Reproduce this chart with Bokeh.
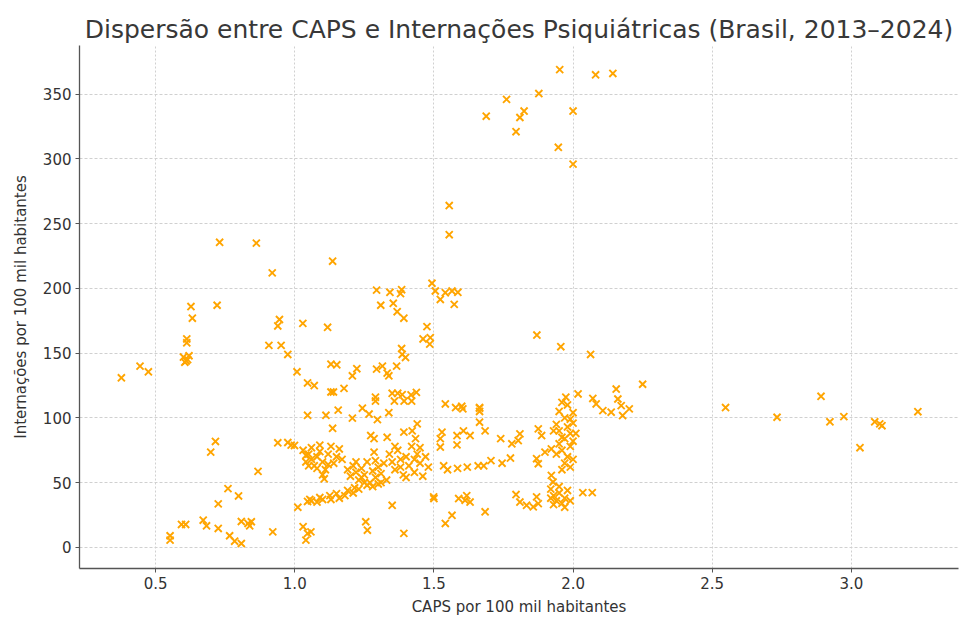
from bokeh.plotting import figure
from bokeh.models import Range1d, FixedTicker, PrintfTickFormatter, ColumnDataSource
from bokeh.embed import file_html
from bokeh.resources import INLINE

title_text = "Dispersão entre CAPS e Internações Psiquiátricas (Brasil, 2013–2024)"
x_label = "CAPS por 100 mil habitantes"
y_label = "Internações por 100 mil habitantes"
x_ticks = [0.5, 1.0, 1.5, 2.0, 2.5, 3.0]
y_ticks = [0, 50, 100, 150, 200, 250, 300, 350]

# CAPS por 100 mil habitantes (x) and Internações por 100 mil habitantes (y)
caps = [
    # upper group
    1.952, 2.081, 2.143, 1.761, 1.877, 1.824, 1.809, 1.688, 1.795, 2.000, 1.947, 2.000, 1.555, 1.555,
    # left-upper
    0.730, 0.862, 0.919, 1.136, 0.627, 0.721, 0.632, 0.945, 0.939, 1.029, 1.118, 0.612, 0.612, 0.907,
    0.951, 0.975, 0.600, 0.615, 0.605, 0.620, 0.610, 0.377, 0.444, 0.474, 1.008, 1.046, 1.070, 1.130, 1.130,
    # middle-upper
    1.294, 1.342, 1.384, 1.380, 1.309, 1.354, 1.368, 1.392, 1.493, 1.505, 1.523, 1.541, 1.565, 1.586,
    1.573, 1.475, 1.461, 1.487, 1.485, 1.384, 1.386, 1.398, 1.151, 1.223, 1.207, 1.294, 1.315, 1.332,
    1.366, 1.338, 1.139, 1.177, 1.290, 1.350, 1.370, 1.386, 1.418, 1.437, 1.541, 1.578, 1.664,
    1.870, 1.956, 2.063,
    # 100-level middle
    1.046, 1.112, 1.156, 1.207, 1.243, 1.267, 1.297, 1.338, 1.290, 1.358, 1.393, 1.420, 1.136, 1.273,
    1.285, 1.332, 1.392, 1.422, 1.440, 1.434, 0.975, 0.999, 1.285, 0.868, 0.939, 0.987, 1.600,
    # cluster A
    1.03, 1.05, 1.06, 1.04, 1.07, 1.08, 1.09, 1.10, 1.11, 1.12, 1.13, 1.14, 1.06, 1.08, 1.10, 1.15,
    1.16, 1.05, 1.12, 1.09, 1.17, 1.04, 1.106,
    # cluster B
    1.19, 1.20, 1.21, 1.22, 1.23, 1.24, 1.25, 1.26, 1.27, 1.28, 1.29, 1.30, 1.31, 1.32, 1.33, 1.22,
    1.26, 1.29, 1.24, 1.31,
    # cluster C
    1.34, 1.35, 1.36, 1.37, 1.38, 1.39, 1.40, 1.41, 1.42, 1.43, 1.44, 1.45, 1.46, 1.47, 1.48, 1.40,
    1.36, 1.43, 1.38, 1.45,
    # diagonal low band
    1.046, 1.054, 1.090, 1.126, 1.150, 1.190, 1.215, 1.250, 1.060, 1.080, 1.100, 1.130, 1.160, 1.180,
    1.210, 1.230, 1.280, 1.300, 1.011,
    # low values
    0.808, 0.921, 1.030, 1.046, 1.058, 1.040, 1.255, 1.261, 1.350, 1.392, 1.500, 1.541, 1.565, 0.808,
    0.715, 0.698, 0.760, 0.798, 0.725, 0.832, 0.844, 0.838, 0.671, 0.683, 0.725, 0.766, 0.784,
    0.593, 0.608, 0.552, 0.552, 1.499,
    # right middle group
    1.604, 1.664, 1.664, 1.664, 1.684, 1.529, 1.523, 1.523, 1.583, 1.606, 1.630, 1.583, 1.740, 1.780,
    1.803, 1.809, 1.875, 1.887, 1.535, 1.549, 1.585, 1.620, 1.659, 1.679, 1.705, 1.745, 1.775,
    1.869, 1.875, 1.899, 1.922,
    # cluster near 2.0
    1.94, 1.95, 1.96, 1.97, 1.98, 1.99, 2.00, 1.95, 1.96, 1.98, 1.99, 2.00, 1.97, 1.99, 1.95, 1.98,
    2.00, 1.96, 1.94, 2.01, 1.97, 1.93, 2.00, 1.99, 1.96, 1.974, 2.018,
    # right of 2.0
    2.071, 2.083, 2.107, 2.137, 2.155, 2.161, 2.173, 2.178, 2.202, 2.250,
    # lower right middle
    1.589, 1.618, 1.630, 1.612, 1.684, 1.795, 1.809, 1.833, 1.857, 1.875, 1.869, 2.035, 2.069,
    1.922, 1.928,
    1.92, 1.93, 1.94, 1.95, 1.96, 1.97, 1.98, 1.93, 1.99, 1.95, 1.97, 1.92,
    # far right
    2.548, 2.733, 2.891, 2.923, 2.973, 3.031, 3.084, 3.102, 3.110, 3.239,
]
internacoes = [
    369, 365, 366, 346, 350.5, 337, 332, 333, 321, 337, 309, 296, 264, 241.5,
    235.6, 235, 212, 221, 186, 187, 177, 176, 171, 173, 170, 161, 158, 156,
    156, 149, 147, 145, 143, 148, 144, 131, 140, 135.6, 135.6, 127, 125, 141.5, 120,
    198.7, 197, 199, 196, 187, 188.5, 182, 177, 204, 198, 191.5, 196.7, 198, 197,
    187.7, 170.5, 161, 162, 157, 153.6, 149, 146.7, 141, 138, 132.5, 137.7, 140, 134.6,
    140, 132.5, 120, 122.8, 116, 119, 119, 118, 117.7, 119.7, 110.8, 108, 108,
    164, 155, 149,
    102, 102, 106, 99.8, 107.5, 103, 98.7, 104, 113, 113, 113, 113, 92, 86.4,
    84, 85, 89, 90, 95.4, 84, 81, 78.7, 73.6, 58.7, 80.8, 79, 109,
    75, 72, 68, 66, 63, 70, 74, 66, 60, 72, 78, 65, 77, 61, 56, 70,
    76, 63, 64, 79, 68, 71, 53,
    60, 55, 63, 58, 52, 61, 56, 66, 50, 59, 54, 62, 57, 65, 52, 66,
    48, 67, 54, 50,
    72, 66, 60, 75, 68, 56, 70, 63, 78, 58, 72, 65, 55, 70, 62, 54,
    78, 68, 62, 77,
    35.5, 37, 38.5, 40, 41.5, 44, 46, 50, 36, 35, 37, 37, 38, 40,
    42, 45, 47, 49, 31,
    20, 12, 16, 10.8, 12, 5.6, 19.8, 13.3, 32.5, 10.8, 37.7, 18.5, 24.8, 3,
    81.8, 73.6, 45.4, 39.7, 33.6, 18.5, 19.8, 16.7, 21, 16.7, 14.6, 9, 4.8,
    17.7, 17.7, 9, 5.6, 39,
    107, 107.5, 105, 96.7, 90, 89, 84, 77.5, 86.4, 90, 86.4, 79.2, 84, 80,
    82.5, 87.7, 91.5, 86.4, 63, 60, 61, 62, 63, 63, 67, 65, 69,
    68.5, 64.6, 73.6, 76,
    95, 90, 85, 100, 93, 88, 96, 80, 75, 70, 78, 82, 65, 62, 105, 110,
    104, 112, 72, 88, 84, 90, 68, 99, 60, 116, 118.5,
    115, 110.8, 105.6, 104.4, 122.3, 114.6, 109.5, 101.8, 107, 126,
    37.7, 40, 35, 36.4, 27.5, 40.8, 35, 32.5, 31.3, 33.8, 39, 42.3, 42.3,
    55.6, 50.5,
    45, 40, 36, 42, 34, 38, 44, 33, 36, 47, 31, 38,
    108, 100.5, 116.7, 97, 101, 77, 97, 95.4, 94, 104.8,
]

source = ColumnDataSource(data=dict(caps=caps, internacoes=internacoes))

p = figure(
    width=959, height=618,
    x_range=Range1d(0.2265, 3.385), y_range=Range1d(-16.3, 387.6),
    output_backend="svg", toolbar_location=None,
    min_border_left=79, min_border_right=1, min_border_top=45, min_border_bottom=48,
)
p.title.text = title_text
p.title.align = "center"
p.title.text_font = "DejaVu Sans"
p.title.text_font_size = "25px"
p.title.text_font_style = "normal"
p.title.text_color = "#383838"
p.title.standoff = 4

p.scatter("caps", "internacoes", source=source, marker="x", size=10,
          line_color="#FFA500", line_width=1.9)

p.outline_line_color = None
p.background_fill_color = "white"
p.border_fill_color = "white"

for ax in (p.xaxis[0], p.yaxis[0]):
    ax.axis_line_color = "#555555"
    ax.axis_line_width = 1.3
    ax.major_tick_line_color = "#555555"
    ax.major_tick_out = 4
    ax.major_tick_in = 0
    ax.minor_tick_line_color = None
    ax.major_label_text_font = "DejaVu Sans"
    ax.major_label_text_font_size = "15px"
    ax.major_label_text_color = "#333333"
    ax.axis_label_text_font = "DejaVu Sans"
    ax.axis_label_text_font_size = "15px"
    ax.axis_label_text_font_style = "normal"
    ax.axis_label_text_color = "#333333"
    ax.major_label_standoff = 4

p.xaxis[0].ticker = FixedTicker(ticks=x_ticks)
p.yaxis[0].ticker = FixedTicker(ticks=y_ticks)
p.xaxis[0].formatter = PrintfTickFormatter(format="%.1f")
p.yaxis[0].formatter = PrintfTickFormatter(format="%d")
p.xaxis[0].axis_label = x_label
p.yaxis[0].axis_label = y_label
p.xaxis[0].axis_label_standoff = 6
p.yaxis[0].axis_label_standoff = 10

p.xgrid.grid_line_color = "#d0d0d0"
p.xgrid.grid_line_dash = "2 2"
p.ygrid.grid_line_color = "#d0d0d0"
p.ygrid.grid_line_dash = "3 2"

open("out.html", "w").write(file_html(p, INLINE))
